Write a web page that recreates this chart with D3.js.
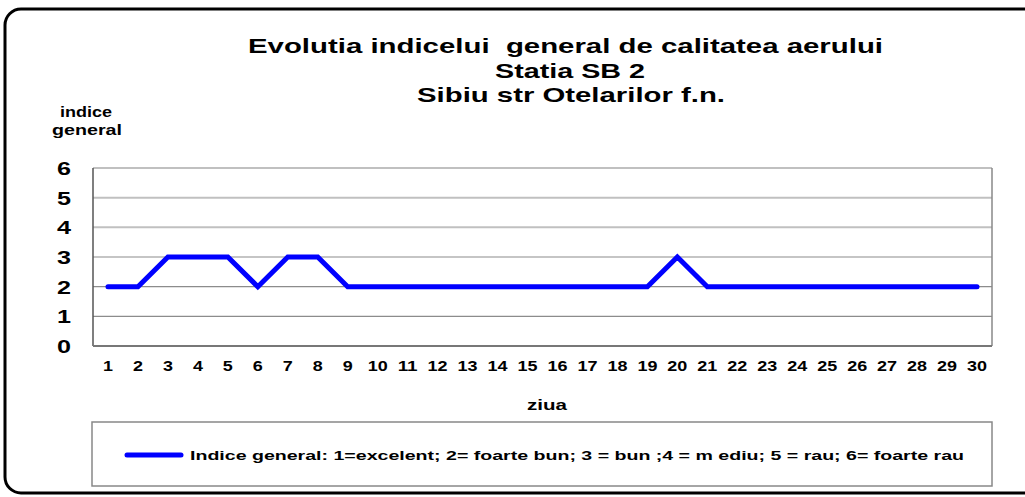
<!DOCTYPE html>
<html>
<head>
<meta charset="utf-8">
<script src="https://cdn.jsdelivr.net/npm/d3@7"></script>
<style>
  body { margin: 0; background: #fff; }
  text { font-family: "Liberation Sans", Arial, sans-serif; font-weight: bold; fill: #000; }
</style>
</head>
<body>
<script>
const days = d3.range(1, 31).map(String);
const indice = [2,2,3,3,3,2,3,3,2,2,2,2,2,2,2,2,2,2,2,3,2,2,2,2,2,2,2,2,2,2];
const yTicks = [0,1,2,3,4,5,6];
const titleLines = ["Evolutia indicelui  general de calitatea aerului", "Statia SB 2", "Sibiu str Otelarilor f.n."];
const legendText = "Indice general: 1=excelent; 2= foarte bun; 3 = bun ;4 = m ediu; 5 = rau; 6= foarte rau";

const W = 1025, H = 497;
const svg = d3.select("body").append("svg").attr("width", W).attr("height", H);

// rounded frame
svg.append("rect")
  .attr("x", 5).attr("y", 9).attr("width", 1040).attr("height", 484)
  .attr("rx", 16).attr("fill", "none").attr("stroke", "#000").attr("stroke-width", 3);

const plotL = 93, plotR = 992, plotT = 168, plotB = 346;

const x = d3.scaleBand().domain(days).range([plotL, plotR]);
const y = d3.scaleLinear().domain([0, 6]).range([plotB, plotT]);

// title (glyphs are stretched wide in the original)
const titleX = [248, 495, 417], titleW = [635, 150, 308];
svg.append("g").selectAll("text")
  .data(titleLines)
  .enter().append("text")
  .attr("x", (d, i) => titleX[i]).attr("y", (d, i) => 53 + i * 24.5)
  .attr("textLength", (d, i) => titleW[i]).attr("lengthAdjust", "spacingAndGlyphs")
  .style("font-size", "21px")
  .style("white-space", "pre")
  .text(d => d);

// gridlines
svg.append("g").selectAll("line")
  .data(yTicks)
  .enter().append("line")
  .attr("x1", plotL).attr("x2", plotR)
  .attr("y1", d => y(d)).attr("y2", d => y(d))
  .attr("stroke", d => (d >= 4 ? "#c0c0c0" : "#8c8c8c"))
  .attr("stroke-width", d => (d >= 4 ? 2 : 1.2));

// plot border
svg.append("line").attr("x1", plotL).attr("x2", plotL).attr("y1", plotT).attr("y2", plotB)
  .attr("stroke", "#555").attr("stroke-width", 1.5);
svg.append("line").attr("x1", plotR).attr("x2", plotR).attr("y1", plotT).attr("y2", plotB)
  .attr("stroke", "#888").attr("stroke-width", 1.5);
svg.append("line").attr("x1", plotL).attr("x2", plotR).attr("y1", plotB).attr("y2", plotB)
  .attr("stroke", "#777").attr("stroke-width", 2);

// y axis labels
const yAxis = svg.append("g")
  .attr("transform", `translate(${plotL - 29},0)`)
  .call(d3.axisLeft(y).tickValues(yTicks).tickSize(0).tickPadding(0).tickFormat(d3.format("d")));
yAxis.select(".domain").remove();
yAxis.selectAll("text")
  .style("font-size", "18px").attr("text-anchor", "middle").attr("dy", "0.36em")
  .attr("textLength", 14).attr("lengthAdjust", "spacingAndGlyphs");

// x axis labels
const xAxis = svg.append("g")
  .attr("transform", `translate(0,${plotB + 14})`)
  .call(d3.axisBottom(x).tickSize(0).tickPadding(0));
xAxis.select(".domain").remove();
xAxis.selectAll("text")
  .style("font-size", "14px").attr("dy", "0.8em")
  .attr("textLength", d => d.length * 10).attr("lengthAdjust", "spacingAndGlyphs");

// axis titles
svg.append("text").attr("x", 60).attr("y", 117)
  .attr("textLength", 52).attr("lengthAdjust", "spacingAndGlyphs")
  .style("font-size", "15px").text("indice");
svg.append("text").attr("x", 52).attr("y", 135)
  .attr("textLength", 70).attr("lengthAdjust", "spacingAndGlyphs")
  .style("font-size", "15px").text("general");
svg.append("text").attr("x", 527).attr("y", 410)
  .attr("textLength", 40).attr("lengthAdjust", "spacingAndGlyphs")
  .style("font-size", "15px").text("ziua");

// data line
const line = d3.line()
  .x((d, i) => x(days[i]) + x.bandwidth() / 2)
  .y(d => y(d));
svg.append("path")
  .datum(indice)
  .attr("d", line)
  .attr("fill", "none")
  .attr("stroke", "#0000ff")
  .attr("stroke-width", 5)
  .attr("stroke-linecap", "round");

// legend
svg.append("rect")
  .attr("x", 92).attr("y", 422).attr("width", 900).attr("height", 64)
  .attr("fill", "#fff").attr("stroke", "#888").attr("stroke-width", 1.5);
svg.append("line")
  .attr("x1", 127).attr("x2", 181).attr("y1", 455).attr("y2", 455)
  .attr("stroke", "#0000ff").attr("stroke-width", 5).attr("stroke-linecap", "round");
svg.append("text")
  .attr("x", 190).attr("y", 460)
  .style("font-size", "13px")
  .style("white-space", "pre")
  .attr("textLength", 774).attr("lengthAdjust", "spacingAndGlyphs")
  .text(legendText);
</script>
</body>
</html>
